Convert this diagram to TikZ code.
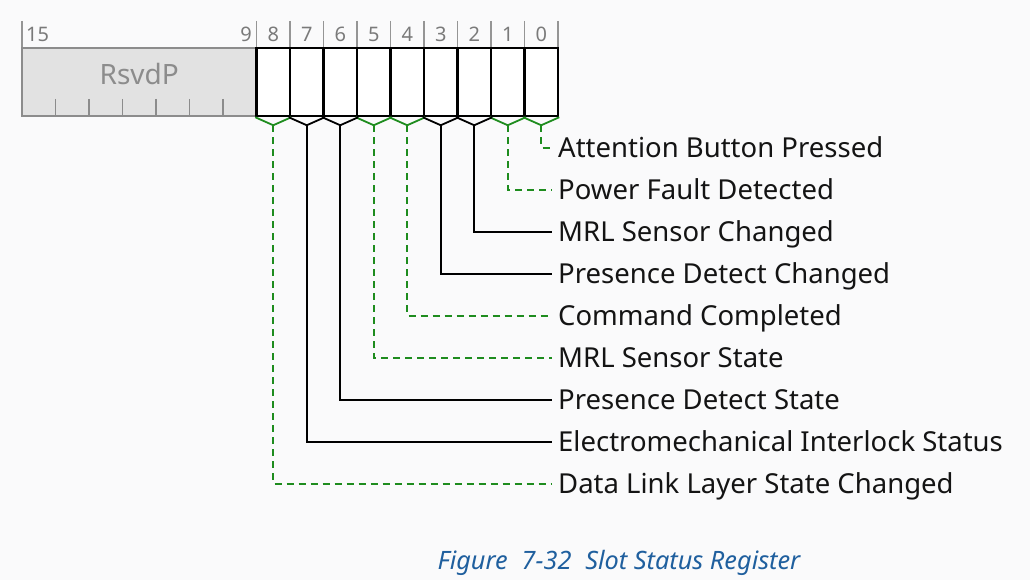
\documentclass[tikz,border=0pt]{standalone}
\usepackage{fontspec}
\setmainfont{Noto Sans}
\usetikzlibrary{calc}
\definecolor{bgc}{HTML}{FAFAFB}
\definecolor{rsfill}{HTML}{E2E2E2}
\definecolor{rsline}{HTML}{8C8C8C}
\definecolor{numc}{HTML}{7A7A7A}
\definecolor{grn}{HTML}{1E8C1E}
\definecolor{capc}{HTML}{1F5F9E}
\tikzset{
  bitcell/.style={draw=black, line width=2.5pt, fill=white, minimum width=33.5pt, minimum height=68pt, inner sep=0pt},
  rsvd/.style={draw=rsline, line width=2.5pt, fill=rsfill, minimum width=234.5pt, minimum height=68pt, inner sep=0pt},
  hdrtick/.style={draw=numc!80, line width=1.8pt},
  bitnum/.style={text=numc, font=\fontsize{20}{20}\selectfont, inner sep=0pt},
  lbl/.style={anchor=west, inner xsep=6pt, inner ysep=0pt, text height=19.6pt, text depth=0pt, font=\fontsize{27.5}{27.5}\selectfont, text=black!92},
  solidcon/.style={draw=black, line width=1.6pt},
  vsolid/.style={draw=black, line width=1.8pt},
  vgreen/.style={draw=grn, line width=1.8pt},
  dashcon/.style={draw=grn, line width=1.6pt, dash pattern=on 7pt off 5pt},
}
\begin{document}
\begin{tikzpicture}[x=1pt,y=-1pt]
\path[fill=bgc] (0,0) rectangle (1030,580);
\useasboundingbox (0,0) rectangle (1030,580);
% header ticks
\foreach \k in {0,7,8,9,10,11,12,13,14,15,16}{
  \draw[hdrtick] (22+\k*33.5,21) -- (22+\k*33.5,48);
}
\node[bitnum, anchor=west] (n15) at (26,34.5) {15};
\node[bitnum, anchor=east] (n9) at (252,34.5) {9};
\foreach \i in {0,...,8}{
  \node[bitnum] (n\i) at ({22+(15.5-\i)*33.5},34.5) {\i};
}
% reserved
\node[rsvd] (r) at (139.25,82) {};
\node[text=rsline, font=\fontsize{28}{28}\selectfont, inner sep=0pt] (rt) at (139.25,74) {RsvdP};
\foreach \k in {1,...,6}{
  \draw[draw=rsline, line width=1.8pt] (22+\k*33.5,99) -- (22+\k*33.5,116);
}
% bit cells
\foreach \i in {0,...,8}{
  \node[bitcell] (b\i) at ({22+(15.5-\i)*33.5},82) {};
}
% labels
\node[lbl] (l0) at (552,148) {Attention Button Pressed};
\node[lbl] (l1) at (552,190) {Power Fault Detected};
\node[lbl] (l2) at (552,232) {MRL Sensor Changed};
\node[lbl] (l3) at (552,274) {Presence Detect Changed};
\node[lbl] (l4) at (552,316) {Command Completed};
\node[lbl] (l5) at (552,358) {MRL Sensor State};
\node[lbl] (l6) at (552,400) {Presence Detect State};
\node[lbl] (l7) at (552,442) {Electromechanical Interlock Status};
\node[lbl] (l8) at (552,484) {Data Link Layer State Changed};
% connectors
\foreach \i in {0,1,4,5,8}{
  \coordinate (v\i) at ($(b\i.south)+(0,8)$);
  \draw[vgreen] (b\i.south west) -- (v\i) -- (b\i.south east);
  \draw[dashcon] (v\i) |- (l\i.west);
}
\foreach \i in {2,3,6,7}{
  \coordinate (v\i) at ($(b\i.south)+(0,8)$);
  \draw[vsolid] (b\i.south west) -- (v\i) -- (b\i.south east);
  \draw[solidcon] (v\i) |- (l\i.west);
}
% caption
\node[text=capc, font=\itshape\fontsize{25.3}{25.3}\selectfont, inner sep=0pt] (cap) at (619,563) {Figure\hspace{0.55em}7-32\hspace{0.55em}Slot Status Register};
\end{tikzpicture}
\end{document}
